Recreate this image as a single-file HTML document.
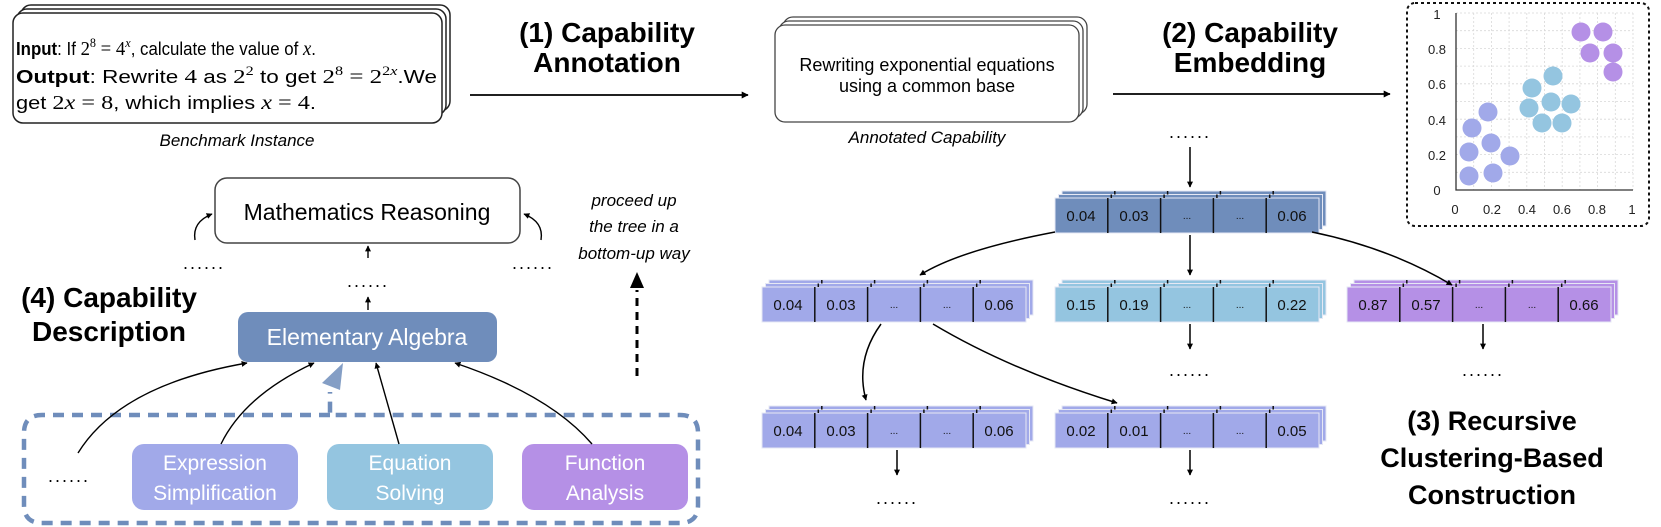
<!DOCTYPE html>
<html><head><meta charset="utf-8"><style>
html,body{margin:0;padding:0;background:#fff;}
svg{display:block;}
text{font-family:"Liberation Sans",sans-serif;}
.b{font-weight:bold;}
.it{font-style:italic;}
.m{font-family:"Liberation Serif",serif;}
</style></head><body>
<svg width="1661" height="527" viewBox="0 0 1661 527" xmlns="http://www.w3.org/2000/svg">
<defs>
<marker id="ah" viewBox="0 0 10 10" refX="9" refY="5" markerWidth="7" markerHeight="7" orient="auto" markerUnits="userSpaceOnUse"><path d="M0,0 L10,5 L0,10 z" fill="#000"/></marker>
<marker id="ahs" viewBox="0 0 10 10" refX="9" refY="5" markerWidth="6" markerHeight="6" orient="auto" markerUnits="userSpaceOnUse"><path d="M0,0 L10,5 L0,10 z" fill="#000"/></marker>
<g id="row">
<rect x="7" y="-7" width="264" height="35" stroke="#e6e8f4" stroke-width="1"/>
<rect x="3.5" y="-3.5" width="264" height="35" stroke="#e6e8f4" stroke-width="1"/>
<rect x="0" y="0" width="264" height="35" stroke="#e6e8f4" stroke-width="1"/>
<g stroke="#111" stroke-width="1.5">
<line x1="52.8" y1="0" x2="52.8" y2="35"/><line x1="105.6" y1="0" x2="105.6" y2="35"/><line x1="158.4" y1="0" x2="158.4" y2="35"/><line x1="211.2" y1="0" x2="211.2" y2="35"/>
<line x1="56.3" y1="-3.5" x2="56.3" y2="0"/><line x1="109.1" y1="-3.5" x2="109.1" y2="0"/><line x1="161.9" y1="-3.5" x2="161.9" y2="0"/><line x1="214.7" y1="-3.5" x2="214.7" y2="0"/>
<line x1="59.8" y1="-7" x2="59.8" y2="-3.5"/><line x1="112.6" y1="-7" x2="112.6" y2="-3.5"/><line x1="165.4" y1="-7" x2="165.4" y2="-3.5"/><line x1="218.2" y1="-7" x2="218.2" y2="-3.5"/>
</g>
</g>
</defs>

<!-- Benchmark box -->
<g fill="#fff" stroke="#222" stroke-width="1.5">
<rect x="21" y="5" width="429" height="106" rx="10"/>
<rect x="17" y="9" width="429" height="106" rx="10"/>
<rect x="13" y="13" width="429" height="110" rx="10"/>
</g>
<text x="16" y="55" font-size="18" textLength="300" lengthAdjust="spacingAndGlyphs"><tspan class="b">Input</tspan>: If <tspan class="m" font-size="20">2</tspan><tspan class="m" font-size="13" dy="-8">8</tspan><tspan class="m" font-size="20" dy="8"> = 4</tspan><tspan class="m it" font-size="13" dy="-8">x</tspan><tspan dy="8">, calculate the value of </tspan><tspan class="m it" font-size="20">x</tspan>.</text>
<text x="16" y="83" font-size="18" textLength="421" lengthAdjust="spacingAndGlyphs"><tspan class="b">Output</tspan>: Rewrite <tspan class="m" font-size="20">4</tspan> as <tspan class="m" font-size="20">2</tspan><tspan class="m" font-size="13" dy="-8">2</tspan><tspan dy="8"> to get </tspan><tspan class="m" font-size="20">2</tspan><tspan class="m" font-size="13" dy="-8">8</tspan><tspan class="m" font-size="20" dy="8"> = 2</tspan><tspan class="m" font-size="13" dy="-8">2<tspan class="it">x</tspan></tspan><tspan dy="8">.We</tspan></text>
<text x="16" y="109" font-size="18" textLength="300" lengthAdjust="spacingAndGlyphs">get <tspan class="m" font-size="20">2<tspan class="it">x</tspan> = 8</tspan>, which implies <tspan class="m" font-size="20"><tspan class="it">x</tspan> = 4</tspan>.</text>
<text x="237" y="146" font-size="17" class="it" text-anchor="middle">Benchmark Instance</text>

<!-- (1) -->
<text x="607" y="42" font-size="28" class="b" text-anchor="middle">(1) Capability</text>
<text x="607" y="72" font-size="28" class="b" text-anchor="middle">Annotation</text>
<line x1="470" y1="95" x2="748" y2="95" stroke="#000" stroke-width="1.8" marker-end="url(#ah)"/>

<!-- Annotated box -->
<g fill="#fff" stroke="#444" stroke-width="1.3">
<rect x="783" y="17" width="304" height="97" rx="10"/>
<rect x="779" y="21" width="304" height="97" rx="10"/>
<rect x="775" y="25" width="304" height="97" rx="10"/>
</g>
<text x="927" y="71" font-size="18" text-anchor="middle">Rewriting exponential equations</text>
<text x="927" y="92" font-size="18" text-anchor="middle">using a common base</text>
<text x="927" y="143" font-size="17" class="it" text-anchor="middle">Annotated Capability</text>

<!-- (2) -->
<text x="1250" y="42" font-size="28" class="b" text-anchor="middle">(2) Capability</text>
<text x="1250" y="72" font-size="28" class="b" text-anchor="middle">Embedding</text>
<line x1="1113" y1="94" x2="1390" y2="94" stroke="#000" stroke-width="1.8" marker-end="url(#ah)"/>

<!-- Scatter -->
<rect x="1407" y="3" width="242" height="223" rx="8" fill="none" stroke="#111" stroke-width="2" stroke-dasharray="3,3"/>
<g stroke="#d8d8d8" stroke-width="0.8" stroke-dasharray="2,2">
<line x1="1473.7" y1="13" x2="1473.7" y2="190"/><line x1="1491.4" y1="13" x2="1491.4" y2="190"/><line x1="1509.1" y1="13" x2="1509.1" y2="190"/><line x1="1526.8" y1="13" x2="1526.8" y2="190"/><line x1="1544.5" y1="13" x2="1544.5" y2="190"/><line x1="1562.2" y1="13" x2="1562.2" y2="190"/><line x1="1579.9" y1="13" x2="1579.9" y2="190"/><line x1="1597.6" y1="13" x2="1597.6" y2="190"/><line x1="1615.3" y1="13" x2="1615.3" y2="190"/><line x1="1633" y1="13" x2="1633" y2="190"/>
<line x1="1456" y1="172.3" x2="1633" y2="172.3"/><line x1="1456" y1="154.6" x2="1633" y2="154.6"/><line x1="1456" y1="136.9" x2="1633" y2="136.9"/><line x1="1456" y1="119.2" x2="1633" y2="119.2"/><line x1="1456" y1="101.5" x2="1633" y2="101.5"/><line x1="1456" y1="83.8" x2="1633" y2="83.8"/><line x1="1456" y1="66.1" x2="1633" y2="66.1"/><line x1="1456" y1="48.4" x2="1633" y2="48.4"/><line x1="1456" y1="30.7" x2="1633" y2="30.7"/><line x1="1456" y1="13" x2="1633" y2="13"/>
</g>
<polyline points="1456,13 1456,190 1633,190" fill="none" stroke="#333" stroke-width="1.3"/>
<g font-size="13" fill="#222">
<text x="1437" y="19" text-anchor="middle">1</text>
<text x="1437" y="54" text-anchor="middle">0.8</text>
<text x="1437" y="89" text-anchor="middle">0.6</text>
<text x="1437" y="125" text-anchor="middle">0.4</text>
<text x="1437" y="160" text-anchor="middle">0.2</text>
<text x="1437" y="195" text-anchor="middle">0</text>
<text x="1455" y="214" text-anchor="middle">0</text>
<text x="1492" y="214" text-anchor="middle">0.2</text>
<text x="1527" y="214" text-anchor="middle">0.4</text>
<text x="1562" y="214" text-anchor="middle">0.6</text>
<text x="1597" y="214" text-anchor="middle">0.8</text>
<text x="1632" y="214" text-anchor="middle">1</text>
</g>
<g fill="#a1a9e9">
<circle cx="1472" cy="128" r="9.5"/><circle cx="1488" cy="112" r="9.5"/><circle cx="1469" cy="152" r="9.5"/><circle cx="1491" cy="143" r="9.5"/><circle cx="1510" cy="156" r="9.5"/><circle cx="1469" cy="176" r="9.5"/><circle cx="1493" cy="173" r="9.5"/>
</g>
<g fill="#94c5e0">
<circle cx="1532" cy="88" r="9.5"/><circle cx="1553" cy="76" r="9.5"/><circle cx="1529" cy="108" r="9.5"/><circle cx="1551" cy="102" r="9.5"/><circle cx="1571" cy="104" r="9.5"/><circle cx="1542" cy="123" r="9.5"/><circle cx="1562" cy="123" r="9.5"/>
</g>
<g fill="#b590e6">
<circle cx="1581" cy="32" r="9.5"/><circle cx="1603" cy="32" r="9.5"/><circle cx="1590" cy="53" r="9.5"/><circle cx="1613" cy="53" r="9.5"/><circle cx="1613" cy="72" r="9.5"/>
</g>

<!-- Vector tree -->
<text x="1190" y="138" font-size="18" text-anchor="middle" letter-spacing="2">......</text>
<line x1="1190" y1="147" x2="1190" y2="187" stroke="#000" stroke-width="1.5" marker-end="url(#ahs)"/>

<use href="#row" x="1055" y="198" fill="#6f8dbb"/>
<use href="#row" x="762" y="287" fill="#a1a9e9"/>
<use href="#row" x="1055" y="287" fill="#94c5e0"/>
<use href="#row" x="1347" y="287" fill="#b590e6"/>
<use href="#row" x="762" y="413" fill="#a1a9e9"/>
<use href="#row" x="1055" y="413" fill="#a1a9e9"/>

<g font-size="15" text-anchor="middle" fill="#111">
<text x="1081" y="221">0.04</text><text x="1134" y="221">0.03</text><text x="1187" y="219" font-size="10">...</text><text x="1240" y="219" font-size="10">...</text><text x="1292" y="221">0.06</text>
<text x="788" y="310">0.04</text><text x="841" y="310">0.03</text><text x="894" y="308" font-size="10">...</text><text x="947" y="308" font-size="10">...</text><text x="999" y="310">0.06</text>
<text x="1081" y="310">0.15</text><text x="1134" y="310">0.19</text><text x="1187" y="308" font-size="10">...</text><text x="1240" y="308" font-size="10">...</text><text x="1292" y="310">0.22</text>
<text x="1373" y="310">0.87</text><text x="1426" y="310">0.57</text><text x="1479" y="308" font-size="10">...</text><text x="1532" y="308" font-size="10">...</text><text x="1584" y="310">0.66</text>
<text x="788" y="436">0.04</text><text x="841" y="436">0.03</text><text x="894" y="434" font-size="10">...</text><text x="947" y="434" font-size="10">...</text><text x="999" y="436">0.06</text>
<text x="1081" y="436">0.02</text><text x="1134" y="436">0.01</text><text x="1187" y="434" font-size="10">...</text><text x="1240" y="434" font-size="10">...</text><text x="1292" y="436">0.05</text>
</g>

<g stroke="#000" stroke-width="1.5" fill="none">
<line x1="1190" y1="235" x2="1190" y2="275" marker-end="url(#ahs)"/>
<path d="M1055,232 Q960,250 920,275" marker-end="url(#ahs)"/>
<path d="M1312,232 Q1390,248 1452,285" marker-end="url(#ahs)"/>
<path d="M881,324 Q855,360 866,400" marker-end="url(#ahs)"/>
<path d="M933,324 Q1010,370 1117,403" marker-end="url(#ahs)"/>
<line x1="1190" y1="324" x2="1190" y2="349" marker-end="url(#ahs)"/>
<line x1="1483" y1="324" x2="1483" y2="349" marker-end="url(#ahs)"/>
<line x1="897" y1="450" x2="897" y2="475" marker-end="url(#ahs)"/>
<line x1="1190" y1="450" x2="1190" y2="475" marker-end="url(#ahs)"/>
</g>
<g font-size="18" text-anchor="middle" letter-spacing="2">
<text x="1190" y="376">......</text>
<text x="1483" y="376">......</text>
<text x="897" y="504">......</text>
<text x="1190" y="504">......</text>
</g>
<g font-size="27" class="b" text-anchor="middle">
<text x="1492" y="430">(3) Recursive</text>
<text x="1492" y="467">Clustering-Based</text>
<text x="1492" y="504">Construction</text>
</g>

<!-- (4) Capability description -->
<rect x="215" y="178" width="305" height="65" rx="12" fill="#fff" stroke="#444" stroke-width="1.5"/>
<text x="367" y="220" font-size="23" text-anchor="middle">Mathematics Reasoning</text>
<g stroke="#000" stroke-width="1.4" fill="none">
<path d="M195,240 Q192,222 212,214" marker-end="url(#ahs)"/>
<path d="M541,240 Q544,222 524,214" marker-end="url(#ahs)"/>
<line x1="368" y1="258" x2="368" y2="246" marker-end="url(#ahs)"/>
<line x1="368" y1="310" x2="368" y2="297" marker-end="url(#ahs)"/>
</g>
<g font-size="18" text-anchor="middle" letter-spacing="2">
<text x="204" y="269">......</text>
<text x="533" y="269">......</text>
<text x="368" y="287">......</text>
<text x="69" y="482">......</text>
</g>
<text x="109" y="307" font-size="28" class="b" text-anchor="middle">(4) Capability</text>
<text x="109" y="341" font-size="28" class="b" text-anchor="middle">Description</text>

<g font-size="17" class="it" text-anchor="middle">
<text x="634" y="206">proceed up</text>
<text x="634" y="232">the tree in a</text>
<text x="634" y="259">bottom-up way</text>
</g>
<line x1="637" y1="376" x2="637" y2="290" stroke="#000" stroke-width="3" stroke-dasharray="8,6"/>
<path d="M630,288 L637,272 L644,288 z" fill="#000"/>

<!-- dashed region -->
<path d="M330,415 L42,415 Q24,415 24,433 L24,505 Q24,523 42,523 L680,523 Q698,523 698,505 L698,433 Q698,415 680,415 L330,415 L330,392" fill="none" stroke="#6f8dbb" stroke-width="4.5" stroke-dasharray="11,8"/>
<path d="M322,383 L343,363 L340,390 z" fill="#6f8dbb" fill-opacity="0.85"/>

<rect x="238" y="312" width="259" height="50" rx="10" fill="#6f8dbb"/>
<text x="367" y="345" font-size="23" fill="#fff" text-anchor="middle">Elementary Algebra</text>

<rect x="132" y="444" width="166" height="66" rx="12" fill="#a1a9e9"/>
<text x="215" y="470" font-size="21" fill="#fff" text-anchor="middle">Expression</text>
<text x="215" y="500" font-size="21" fill="#fff" text-anchor="middle">Simplification</text>
<rect x="327" y="444" width="166" height="66" rx="12" fill="#94c5e0"/>
<text x="410" y="470" font-size="21" fill="#fff" text-anchor="middle">Equation</text>
<text x="410" y="500" font-size="21" fill="#fff" text-anchor="middle">Solving</text>
<rect x="522" y="444" width="166" height="66" rx="12" fill="#b590e6"/>
<text x="605" y="470" font-size="21" fill="#fff" text-anchor="middle">Function</text>
<text x="605" y="500" font-size="21" fill="#fff" text-anchor="middle">Analysis</text>

<g stroke="#000" stroke-width="1.4" fill="none">
<path d="M78,453 Q120,385 247,363" marker-end="url(#ahs)"/>
<path d="M221,444 Q245,395 314,363" marker-end="url(#ahs)"/>
<path d="M399,444 L376,363" marker-end="url(#ahs)"/>
<path d="M592,444 Q550,395 455,363" marker-end="url(#ahs)"/>
</g>
</svg>
</body></html>
